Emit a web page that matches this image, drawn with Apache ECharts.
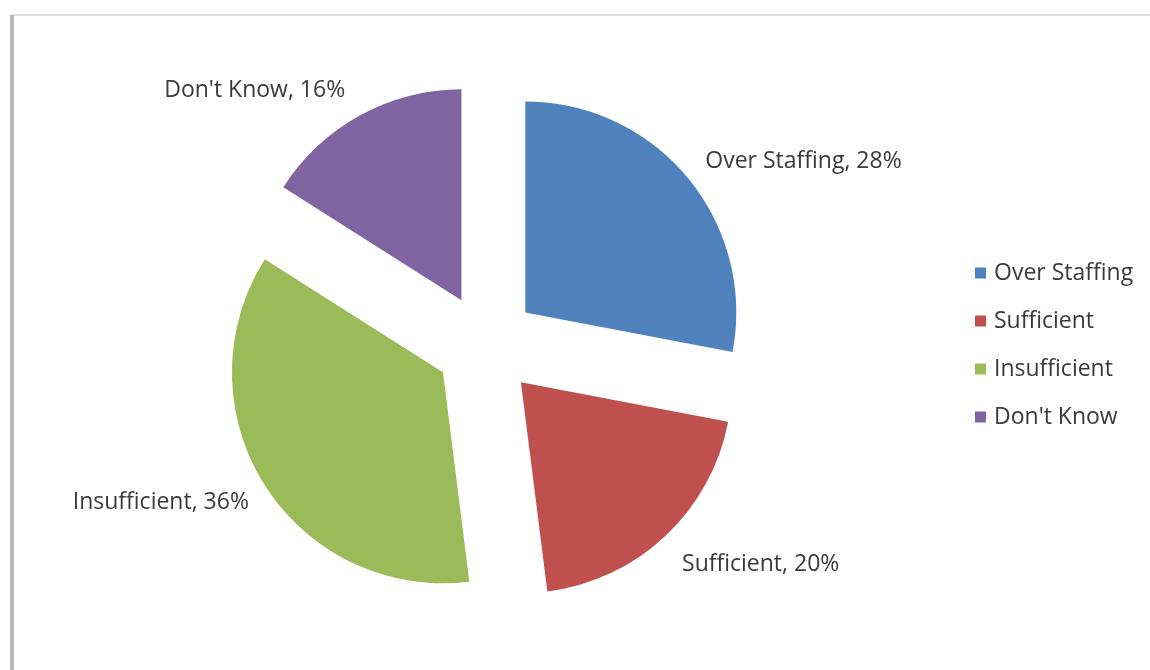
<!DOCTYPE html>
<html>
<head>
<meta charset="utf-8">
<script src="https://cdn.jsdelivr.net/npm/echarts@6/dist/echarts.min.js"></script>
<style>
  html, body { margin: 0; padding: 0; background: #ffffff; }
  #chart { width: 1150px; height: 670px; }
</style>
</head>
<body>
<div id="chart"></div>
<script>
// Staffing opinion shares (percent)
const categories = ['Over Staffing', 'Sufficient', 'Insufficient', "Don't Know"];
const shares = [28, 20, 36, 16];
const colors = ['#4F81BD', '#C0504D', '#9BBB59', '#8064A2'];

// small per-label nudges so each label sits just off its slice
const labelNudge = [[-3, -4], [-2, 14], [6, 6], [0, -7]];

const chart = echarts.init(document.getElementById('chart'), null, { renderer: 'canvas' });

const pieData = categories.map((name, i) => ({
  name: name,
  value: shares[i],
  selected: true,
  itemStyle: { color: colors[i] }
}));

chart.setOption({
  backgroundColor: '#ffffff',
  animation: false,
  color: colors,
  graphic: [
    {
      type: 'rect',
      shape: { x: 12, y: 15, width: 1160, height: 680 },
      style: { fill: 'none', stroke: '#d4d4d4', lineWidth: 1.5 },
      silent: true
    },
    {
      type: 'line',
      shape: { x1: 12, y1: 15, x2: 12, y2: 670 },
      style: { stroke: '#b8b8b8', lineWidth: 4 },
      silent: true
    }
  ],
  legend: {
    orient: 'vertical',
    left: 975,
    top: 261,
    padding: 0,
    itemWidth: 11,
    itemHeight: 11,
    itemGap: 24,
    icon: 'rect',
    selectedMode: false,
    textStyle: {
      fontFamily: 'Open Sans',
      fontSize: 23,
      lineHeight: 24,
      color: '#3a3a3a',
      padding: [0, 0, 0, 3]
    },
    data: categories
  },
  series: [{
    type: 'pie',
    center: [486, 345],
    radius: 211,
    startAngle: 90,
    clockwise: true,
    selectedMode: 'multiple',
    selectedOffset: 51,
    avoidLabelOverlap: false,
    label: {
      show: true,
      position: 'outside',
      formatter: '{b}, {c}%',
      fontFamily: 'Open Sans',
      fontSize: 23,
      color: '#3a3a3a'
    },
    labelLine: { show: false, length: 20, length2: 0 },
    labelLayout: function (params) {
      const n = labelNudge[params.dataIndex] || [0, 0];
      return { dx: n[0], dy: n[1] };
    },
    emphasis: { disabled: true },
    data: pieData
  }]
});
</script>
</body>
</html>
